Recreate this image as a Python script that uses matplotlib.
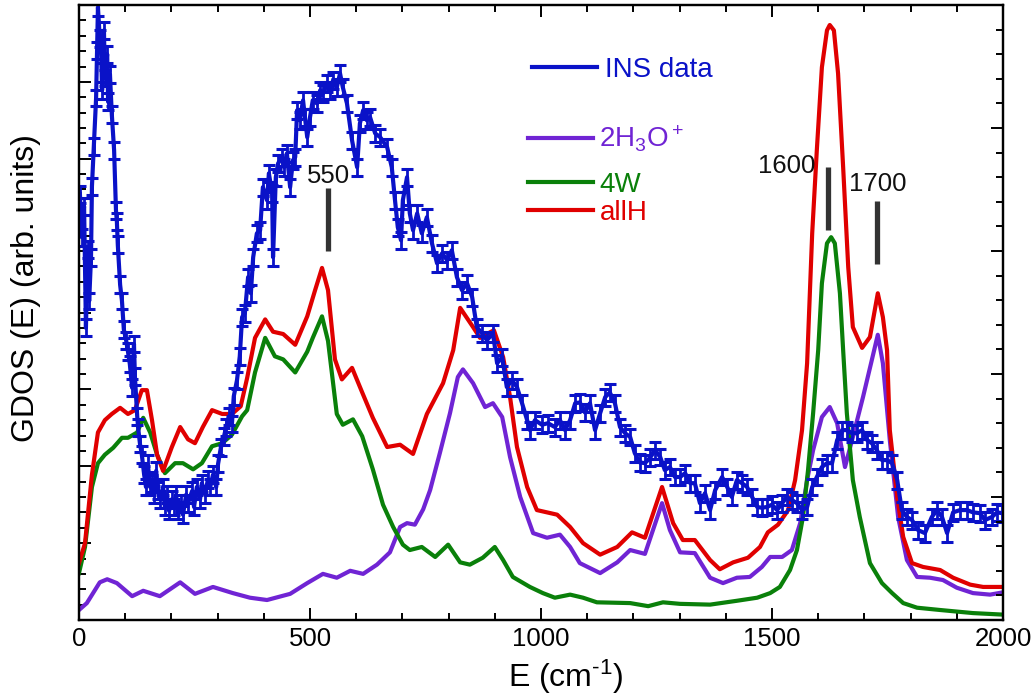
import matplotlib
matplotlib.use("Agg")
import matplotlib.pyplot as plt
from matplotlib.lines import Line2D
from matplotlib.ticker import MultipleLocator

plt.rcParams['font.family'] = ['Liberation Sans', 'DejaVu Sans']
plt.rcParams['mathtext.fontset'] = 'custom'
plt.rcParams['mathtext.rm'] = 'Liberation Sans'
plt.rcParams['mathtext.it'] = 'Liberation Sans:italic'
plt.rcParams['mathtext.default'] = 'regular'

# INS data (energy in cm-1, intensity in arb. units)
ins_E = [2, 6, 11, 15, 19, 22, 26, 28, 32, 37, 39, 41, 45, 48, 50, 54, 56, 61, 63, 67,
         71, 76, 80, 82, 84, 89, 93, 97, 102, 106, 110, 115, 119, 121, 126, 128, 132, 136, 141, 145,
         149, 154, 158, 162, 167, 171, 175, 182, 186, 190, 195, 201, 206, 210, 214, 221, 225, 232, 236, 245,
         249, 255, 262, 266, 273, 279, 284, 290, 297, 301, 307, 314, 318, 325, 331, 335, 342, 348,
         353, 359, 366, 372, 377, 385, 392, 398, 407, 411, 418, 420, 426, 431, 439, 444, 450, 457, 463, 468,
         472, 478, 485, 489, 494, 500, 506, 515, 522, 528, 537, 543, 550, 558, 565, 571, 580,
         591, 602, 608, 615, 623, 630, 641, 652, 667, 677, 684, 690, 697, 701, 710, 716, 723, 732, 742, 753,
         764, 775, 786, 797, 807, 818, 829, 840, 851, 861, 872, 883, 896,
         905, 916, 926, 937, 948, 959, 970, 976, 987, 1002, 1015, 1030, 1041, 1052, 1063, 1074, 1084, 1095,
         1106, 1117, 1128, 1139, 1149, 1160, 1171, 1182, 1193, 1203, 1214, 1225, 1236, 1247, 1258, 1268,
         1279, 1290, 1301, 1312, 1323,
         1333, 1344, 1355, 1366, 1377, 1392, 1403, 1413, 1424, 1435, 1446, 1457, 1468, 1478, 1489, 1500,
         1511, 1522, 1532, 1543, 1554, 1565, 1576, 1587, 1597, 1608, 1619, 1630, 1641, 1652, 1662, 1673,
         1684, 1695, 1706, 1716, 1727, 1738, 1749, 1760, 1771, 1781, 1792, 1803, 1816, 1831, 1846, 1857,
         1868, 1879, 1892, 1907, 1922, 1935, 1950, 1961, 1976, 1987, 1998]
ins_I = [5.54, 4.98, 5.38, 3.80, 4.82, 4.15, 4.72, 5.64, 6.16, 6.79, 7.41, 7.97, 7.56, 7.36, 6.89, 7.67, 7.05, 7.36, 6.74, 7.10,
         6.58, 6.11, 5.33, 5.18, 4.88, 4.36, 4.15, 3.78, 3.64, 3.49, 3.33, 3.02, 3.59, 3.17, 2.65, 2.50, 2.29, 2.15, 1.89, 1.73,
         2.03, 1.73, 1.78, 1.63, 1.94, 1.68, 1.57, 1.73, 1.47, 1.63, 1.42, 1.57, 1.47, 1.63, 1.42, 1.52, 1.37, 1.63, 1.52, 1.68,
         1.47, 1.73, 1.57, 1.78, 1.63, 1.83, 1.73, 1.89, 1.73, 2.03, 2.24, 2.39, 2.50, 2.65, 2.55, 2.91, 3.12, 3.43,
         3.94, 3.99, 4.46, 4.25, 4.72, 5.03, 5.07, 5.63, 5.46, 5.81, 5.55, 4.72, 5.76, 5.94, 6.02, 5.89, 6.07, 5.63, 5.98, 6.02,
         6.63, 6.50, 6.76, 6.54, 6.28, 6.54, 6.76, 6.72, 6.89, 6.85, 6.98, 6.89, 7.02, 6.93, 7.11, 6.93, 6.72,
         6.24, 5.89, 6.46, 6.63, 6.50, 6.54, 6.33, 6.28, 6.15, 5.89, 5.46, 5.11, 4.94, 5.46, 5.76, 5.29, 5.07, 5.29, 5.03, 5.24,
         4.90, 4.64, 4.77, 4.68, 4.81, 4.46, 4.29, 4.38, 4.20, 3.81, 3.73, 3.64, 3.73,
         3.34, 3.42, 3.03, 3.12, 3.03, 2.82, 2.60, 2.47, 2.60, 2.54, 2.56, 2.51, 2.60, 2.47, 2.60, 2.82, 2.83, 2.70,
         2.82, 2.47, 2.69, 2.90, 2.96, 2.82, 2.51, 2.43, 2.38, 2.17, 2.05, 2.04, 2.11, 2.21, 2.12, 1.95,
         1.99, 1.86, 1.86, 1.91, 1.78,
         1.78, 1.52, 1.65, 1.43, 1.69, 1.86, 1.73, 1.60, 1.82, 1.78, 1.73, 1.60, 1.47, 1.46, 1.47, 1.50,
         1.43, 1.52, 1.60, 1.56, 1.52, 1.43, 1.47, 1.73, 1.86, 1.99, 2.04, 2.04, 2.34, 2.47, 2.47, 2.43,
         2.43, 2.47, 2.34, 2.30, 2.21, 2.08, 2.08, 2.04, 1.82, 1.43, 1.34, 1.30, 1.17, 1.13, 1.34, 1.43,
         1.34, 1.13, 1.40, 1.43, 1.43, 1.40, 1.39, 1.30, 1.34, 1.40, 1.39]
ins_err = 0.11

# calculated spectra
h3o_E = [0, 17, 45, 61, 82, 115, 139, 175, 219, 251, 290, 333, 370, 407, 457, 494, 528, 558, 587, 615,
         645, 673, 695, 710, 727, 745, 760, 781, 803, 820, 831, 853, 879, 896, 916, 933, 955, 983, 1013, 1041,
         1063, 1084, 1128, 1165, 1193, 1225, 1262, 1279, 1301, 1333, 1366, 1394, 1424, 1452, 1478, 1496, 1522, 1543, 1561, 1576,
         1589, 1608, 1625, 1641, 1658, 1675, 1697, 1716, 1729, 1740, 1755, 1773, 1792, 1814, 1842, 1870, 1900, 1935, 1972, 2000]
h3o_I = [0.13, 0.22, 0.49, 0.53, 0.48, 0.31, 0.38, 0.31, 0.49, 0.34, 0.43, 0.35, 0.29, 0.26, 0.34, 0.48, 0.60, 0.55, 0.64, 0.60,
         0.72, 0.88, 1.21, 1.26, 1.24, 1.44, 1.69, 2.17, 2.69, 3.16, 3.26, 3.08, 2.77, 2.82, 2.64, 2.12, 1.60, 1.13, 1.07, 1.11,
         0.95, 0.74, 0.61, 0.75, 0.91, 0.86, 1.52, 1.17, 0.88, 0.87, 0.55, 0.48, 0.55, 0.56, 0.69, 0.82, 0.82, 0.91, 1.26, 1.82,
         2.21, 2.64, 2.77, 2.56, 1.99, 2.38, 2.90, 3.38, 3.71, 3.34, 2.34, 1.34, 0.78, 0.56, 0.55, 0.52, 0.42, 0.35, 0.33, 0.36]

w4_E = [0, 13, 28, 41, 56, 74, 93, 106, 126, 139, 154, 169, 186, 208, 225, 247, 266, 288, 310, 331,
        353, 364, 381, 403, 424, 442, 468, 494, 506, 526, 539, 558, 571, 593, 613, 636, 658, 680, 701, 716,
        742, 771, 799, 825, 846, 874, 900, 918, 939, 976, 1004, 1030, 1063, 1091, 1121, 1193, 1232, 1264, 1301, 1366,
        1424, 1468, 1496, 1517, 1539, 1554, 1567, 1578, 1589, 1600, 1608, 1619, 1628, 1636, 1647, 1654, 1662, 1675, 1690, 1712,
        1738, 1760, 1784, 1814, 1864, 1935, 2000]
w4_I = [0.61, 0.95, 1.73, 2.04, 2.15, 2.24, 2.37, 2.37, 2.44, 2.63, 2.44, 2.15, 1.91, 2.04, 2.04, 1.96, 2.04, 2.26, 2.30, 2.41,
        2.65, 2.73, 3.22, 3.67, 3.43, 3.39, 3.22, 3.49, 3.67, 3.95, 3.63, 2.68, 2.54, 2.61, 2.39, 1.96, 1.50, 1.21, 0.98, 0.91,
        0.95, 0.82, 0.98, 0.75, 0.72, 0.81, 0.95, 0.78, 0.56, 0.43, 0.35, 0.29, 0.33, 0.29, 0.23, 0.22, 0.18, 0.23, 0.21, 0.20,
        0.25, 0.29, 0.35, 0.43, 0.65, 0.91, 1.34, 1.95, 2.69, 3.51, 4.38, 4.90, 4.98, 4.90, 4.25, 3.51, 2.69, 1.82, 1.34, 0.74,
        0.48, 0.35, 0.22, 0.16, 0.13, 0.09, 0.07]

allh_E = [0, 13, 28, 41, 56, 71, 89, 106, 121, 136, 147, 158, 169, 182, 201, 219, 236, 251, 268, 288,
          310, 331, 350, 364, 381, 403, 420, 442, 468, 494, 511, 526, 539, 554, 569, 591, 613, 636, 667, 695,
          723, 753, 788, 810, 825, 853, 868, 898, 918, 933, 948, 970, 991, 1035, 1063, 1091, 1128, 1165, 1197, 1225,
          1262, 1286, 1307, 1333, 1366, 1387, 1416, 1448, 1474, 1491, 1513, 1535, 1550, 1565, 1576, 1587, 1597, 1608, 1619, 1625,
          1634, 1643, 1654, 1665, 1675, 1695, 1712, 1729, 1740, 1749, 1755, 1771, 1784, 1803, 1827, 1864, 1892, 1929, 1957, 2000]
allh_I = [0.74, 1.00, 1.89, 2.44, 2.60, 2.68, 2.76, 2.68, 2.73, 2.99, 2.99, 2.60, 2.15, 1.94, 2.25, 2.51, 2.35, 2.30, 2.51, 2.73,
          2.68, 2.68, 2.78, 3.15, 3.67, 3.91, 3.75, 3.72, 3.58, 3.95, 4.29, 4.58, 4.29, 3.39, 3.13, 3.28, 2.96, 2.63, 2.25, 2.28,
          2.16, 2.68, 3.08, 3.51, 4.06, 3.81, 3.67, 3.77, 3.42, 2.90, 2.25, 1.73, 1.43, 1.37, 1.21, 1.00, 0.85, 0.95, 1.14, 1.07,
          1.73, 1.26, 1.04, 1.04, 0.78, 0.66, 0.75, 0.81, 0.95, 1.14, 1.24, 1.43, 1.82, 2.47, 3.34, 5.03, 6.11, 7.19, 7.67, 7.74,
          7.67, 7.11, 5.89, 4.59, 3.81, 3.54, 3.68, 4.25, 3.94, 3.51, 2.47, 1.60, 1.08, 0.74, 0.69, 0.65, 0.55, 0.46, 0.43, 0.43]

# marked peaks
peak_E = [539, 1621, 1727]
peak_lo = [4.80, 5.07, 4.63]
peak_hi = [5.62, 5.89, 5.45]
peak_txt = ['550', '1600', '1700']
peak_txt_E = [541, 1593, 1729]
peak_txt_I = [5.68, 5.81, 5.58]
peak_ha = ['center', 'right', 'center']

c_ins = '#0A12C8'
c_h3o = '#7024D4'
c_w4 = '#0A800A'
c_allh = '#E00000'

fig = plt.figure(figsize=(10.35, 7), dpi=100)
ax = fig.add_axes([79 / 1035, 80 / 700, 924 / 1035, 615 / 700])

ax.plot(h3o_E, h3o_I, color=c_h3o, lw=3.0, solid_joinstyle='round', zorder=2)
ax.plot(w4_E, w4_I, color=c_w4, lw=3.0, solid_joinstyle='round', zorder=2)
ax.plot(allh_E, allh_I, color=c_allh, lw=3.0, solid_joinstyle='round', zorder=2)
ax.errorbar(ins_E, ins_I, yerr=ins_err, fmt='-', color=c_ins, lw=3.0,
            elinewidth=2.0, capsize=4.0, capthick=2.2, zorder=3)

ax.vlines(peak_E, peak_lo, peak_hi, colors='#333333', lw=3.8, zorder=4)
for x, y, s, ha in zip(peak_txt_E, peak_txt_I, peak_txt, peak_ha):
    ax.text(x, y, s, fontsize=18.5, ha=ha, va='baseline', color='#111111')

ax.set_xlim(0, 2000)
ax.set_ylim(0, 8)
ax.xaxis.set_major_locator(MultipleLocator(500))
ax.xaxis.set_minor_locator(MultipleLocator(100))
ax.yaxis.set_major_locator(MultipleLocator(1))
ax.yaxis.set_minor_locator(MultipleLocator(0.2))
ax.tick_params(which='both', direction='in', top=True, width=1.4, labelsize=18.5, pad=5,
               labelleft=False)
ax.tick_params(which='major', length=8.5)
ax.tick_params(which='minor', length=5)

ax2 = ax.twinx()
ax2.set_ylim(0, 5)
ax2.yaxis.set_major_locator(MultipleLocator(1))
ax2.yaxis.set_minor_locator(MultipleLocator(0.2))
ax2.tick_params(which='both', direction='in', width=1.4, labelright=False)
ax2.tick_params(which='major', length=8.5)
ax2.tick_params(which='minor', length=5)

for a in (ax, ax2):
    for sp in a.spines.values():
        sp.set_linewidth(1.6)

ax.set_xlabel('E (cm$^{\N{HYPHEN}1}$)', fontsize=23)
ax.xaxis.set_label_coords(0.527, -0.062)
ax.set_ylabel('GDOS (E) (arb. units)', fontsize=23)
ax.yaxis.set_label_coords(-0.041, 0.54)

leg_kw = dict(frameon=False, fontsize=20, loc='upper left', borderpad=0, borderaxespad=0,
              handlelength=2.35, labelcolor='linecolor')
leg1 = ax2.legend([Line2D([], [], color=c_ins, lw=3.0)], ['INS data'],
                  bbox_to_anchor=(0.490, 0.916), handletextpad=0.3, **leg_kw)
ax2.add_artist(leg1)
leg2 = ax2.legend([Line2D([], [], color=c_h3o, lw=3.0)], ['2H$_3$O$^+$'],
                  bbox_to_anchor=(0.486, 0.807), handletextpad=0.22, **leg_kw)
ax2.add_artist(leg2)
ax2.legend([Line2D([], [], color=c_w4, lw=3.0), Line2D([], [], color=c_allh, lw=3.0)],
           ['4W', 'allH'], bbox_to_anchor=(0.486, 0.729), handletextpad=0.22,
           labelspacing=0.07, **leg_kw)

fig.savefig('out.png', dpi=100)
